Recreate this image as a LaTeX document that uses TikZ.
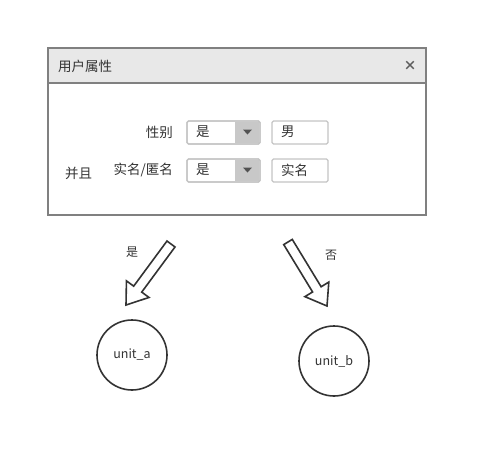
\documentclass[tikz,border=0pt]{standalone}
\usepackage{fontspec}
\setmainfont{Noto Sans CJK SC}
\usetikzlibrary{calc}
\definecolor{panelborder}{HTML}{808080}
\definecolor{headfill}{HTML}{E8E8E8}
\definecolor{boxborder}{HTML}{C4C4C4}
\definecolor{btnfill}{HTML}{C8C8C8}
\definecolor{ink}{HTML}{333333}
\tikzset{
  panel/.style={draw=panelborder, line width=2pt},
  header/.style={draw=panelborder, line width=2pt, fill=headfill},
  lbl/.style={font=\fontsize{13.5}{15}\selectfont, text=ink, inner sep=0pt},
  field/.style={draw=boxborder, line width=1.2pt, rounded corners=1.5pt, fill=white},
  btn/.style={fill=btnfill},
  circ/.style={draw=ink, line width=1.6pt, circle, minimum size=70pt, inner sep=0pt, font=\fontsize{12.5}{14}\selectfont, text=ink},
  blockarrow/.style={draw=ink, line width=1.6pt, fill=white, line join=miter},
}
\newcommand{\blockarr}[2]{%
  \coordinate (hb) at ($(#1)!0.74!(#2)$);
  \draw[blockarrow] ($(#1)!5pt!90:(#2)$) -- ($(hb)!5pt!90:(#2)$) -- ($(hb)!14pt!90:(#2)$) -- (#2)
    -- ($(hb)!14pt!-90:(#2)$) -- ($(hb)!5pt!-90:(#2)$) -- ($(#1)!5pt!-90:(#2)$) -- cycle;
}
\begin{document}
\begin{tikzpicture}[x=1pt,y=-1pt]
\useasboundingbox (0,0) rectangle (488,458);
% panel
\draw[panel] (48,48) rectangle (426,215);
\draw[header] (48,48) rectangle (426,83);
\node[lbl, anchor=west] (title) at (58,66) {用户属性};
\node[lbl, anchor=center, font=\fontsize{13}{14}\selectfont\bfseries, text=ink!80] (close) at (410,66) {×};
% row 1
\node[lbl, anchor=east] (l1) at (173,132) {性别};
\draw[field] (187,121) rectangle (260,144);
\fill[btn] (235,121.6) rectangle (259.4,143.4);
\draw[draw=boxborder, line width=1.2pt, rounded corners=1.5pt] (187,121) rectangle (260,144);
\node[lbl, anchor=west] (v1) at (196,132) {是};
\fill[ink!85] (243,129.5) -- (252,129.5) -- (247.5,134.5) -- cycle;
\draw[field] (272,121) rectangle (328,144);
\node[lbl, anchor=west] (t1) at (281,132) {男};
% row 2
\node[lbl, anchor=east] (l2) at (173,170) {实名/匿名};
\node[lbl, anchor=west] (and) at (65,173) {并且};
\draw[field] (187,159) rectangle (260,182);
\fill[btn] (235,159.6) rectangle (259.4,181.4);
\draw[draw=boxborder, line width=1.2pt, rounded corners=1.5pt] (187,159) rectangle (260,182);
\node[lbl, anchor=west] (v2) at (196,170) {是};
\fill[ink!85] (243,167.5) -- (252,167.5) -- (247.5,172.5) -- cycle;
\draw[field] (272,159) rectangle (328,182);
\node[lbl, anchor=west] (t2) at (281,170) {实名};
% arrows
\coordinate (a1s) at (171,244);
\coordinate (a1e) at (126,305);
\coordinate (a2s) at (288,242);
\coordinate (a2e) at (327,306);
\blockarr{a1s}{a1e}
\blockarr{a2s}{a2e}
\node[lbl, font=\fontsize{12}{14}\selectfont] (yes) at (132,252) {是};
\node[lbl, font=\fontsize{12}{14}\selectfont] (no) at (331,255) {否};
% circles
\node[circ] (ua) at (132,355) {unit\_a};
\node[circ] (ub) at (334,361) {unit\_b};
\end{tikzpicture}
\end{document}
